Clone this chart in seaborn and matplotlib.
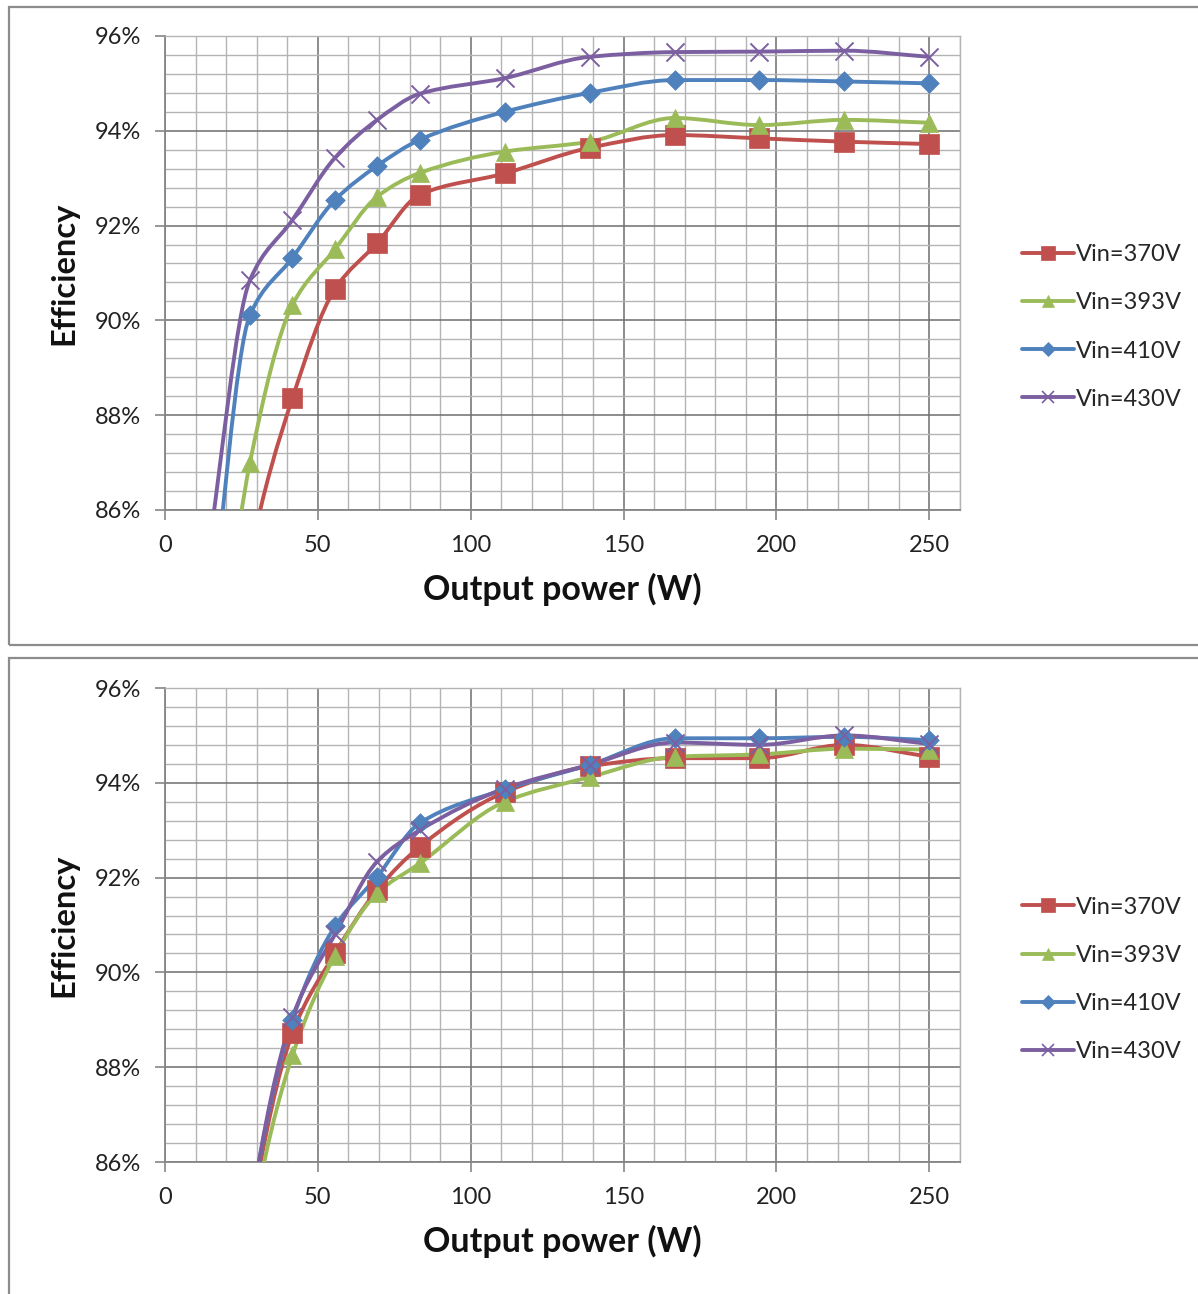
import numpy as np
import pandas as pd
import seaborn as sns
import matplotlib.pyplot as plt
from matplotlib.path import Path
from matplotlib.patches import PathPatch, Rectangle
from matplotlib.lines import Line2D
from matplotlib.ticker import MultipleLocator, FuncFormatter

# Output power points (W)
power = [13.9, 27.8, 41.7, 55.6, 69.4, 83.3, 111.1, 138.9, 166.7, 194.4, 222.2, 250.0]

# Top chart efficiency (%)
top_370 = [78.0, 85.0, 88.36, 90.66, 91.63, 92.65, 93.10, 93.64, 93.91, 93.84, 93.77, 93.72]
top_393 = [80.5, 87.0, 90.33, 91.50, 92.61, 93.11, 93.56, 93.77, 94.27, 94.12, 94.23, 94.17]
top_410 = [83.0, 90.11, 91.32, 92.54, 93.26, 93.81, 94.40, 94.80, 95.07, 95.07, 95.04, 95.00]
top_430 = [85.0, 90.85, 92.12, 93.43, 94.23, 94.78, 95.11, 95.56, 95.66, 95.67, 95.69, 95.56]

# Bottom chart efficiency (%)
bot_370 = [76.0, 84.7, 88.72, 90.40, 91.74, 92.65, 93.80, 94.35, 94.52, 94.52, 94.80, 94.55]
bot_393 = [75.5, 84.4, 88.25, 90.35, 91.67, 92.30, 93.60, 94.12, 94.55, 94.60, 94.72, 94.70]
bot_410 = [76.5, 84.9, 89.00, 90.97, 92.02, 93.15, 93.86, 94.38, 94.94, 94.94, 94.97, 94.90]
bot_430 = [76.5, 84.9, 89.06, 90.80, 92.34, 93.00, 93.88, 94.38, 94.85, 94.80, 95.00, 94.82]

labels = ["Vin=370V", "Vin=393V", "Vin=410V", "Vin=430V"]
colors = ["#C0504D", "#9BBB59", "#4F81BD", "#7B5FA0"]
markers = ["s", "^", "D", "x"]
msizes = [14, 13, 10, 13]

sns.set_theme(style="white")
plt.rcParams["font.family"] = ["Lato", "DejaVu Sans"]


def smooth_path(x, y):
    # smoothed line drawn as cubic Bezier segments through the points,
    # tangents limited so the curve does not overshoot (monotone style)
    x = np.asarray(x, float)
    y = np.asarray(y, float)
    h = np.diff(x)
    d = np.diff(y) / h
    m = np.zeros_like(y)
    m[0], m[-1] = d[0], d[-1]
    for i in range(1, len(y) - 1):
        if d[i - 1] * d[i] > 0:
            w1 = 2 * h[i] + h[i - 1]
            w2 = h[i] + 2 * h[i - 1]
            m[i] = (w1 + w2) / (w1 / d[i - 1] + w2 / d[i])
    verts = [(x[0], y[0])]
    codes = [Path.MOVETO]
    for i in range(len(x) - 1):
        verts += [(x[i] + h[i] / 3, y[i] + m[i] * h[i] / 3),
                  (x[i + 1] - h[i] / 3, y[i + 1] - m[i + 1] * h[i] / 3),
                  (x[i + 1], y[i + 1])]
        codes += [Path.CURVE4] * 3
    return Path(verts, codes)


def draw_chart(ax, series):
    rows = []
    for lab, vals in zip(labels, series):
        for p, v in zip(power, vals):
            rows.append({"power": p, "eff": v, "vin": lab})
    df = pd.DataFrame(rows)

    for lab, vals, c in zip(labels, series, colors):
        ax.add_patch(PathPatch(smooth_path(power, vals), facecolor="none",
                               edgecolor=c, lw=2.8, zorder=3, clip_on=True))

    for lab, c, m, ms in zip(labels, colors, markers, msizes):
        sub = df[df["vin"] == lab]
        if m == "x":
            sns.scatterplot(data=sub, x="power", y="eff", ax=ax, marker="x",
                            s=ms ** 2, color=c, linewidth=1.4, zorder=4,
                            legend=False)
        else:
            sns.scatterplot(data=sub, x="power", y="eff", ax=ax, marker=m,
                            s=ms ** 2, color=c, edgecolor=c, linewidth=0.5,
                            zorder=4, legend=False)

    ax.set_xlim(0, 260)
    ax.set_ylim(86, 96)
    ax.xaxis.set_major_locator(MultipleLocator(50))
    ax.xaxis.set_minor_locator(MultipleLocator(10))
    ax.yaxis.set_major_locator(MultipleLocator(2))
    ax.yaxis.set_minor_locator(MultipleLocator(0.4))
    ax.yaxis.set_major_formatter(FuncFormatter(lambda v, p: f"{v:.0f}%"))
    ax.grid(which="minor", color="#B4B4B4", lw=1.0)
    ax.grid(which="major", color="#6E6E6E", lw=1.1)
    ax.set_axisbelow(True)
    for s in ["top", "right"]:
        ax.spines[s].set_color("#B4B4B4")
        ax.spines[s].set_linewidth(1.0)
    for s in ["left", "bottom"]:
        ax.spines[s].set_color("#868686")
        ax.spines[s].set_linewidth(1.3)
    ax.tick_params(axis="both", which="major", length=7, width=1.2,
                   color="#868686", labelsize=17, labelcolor="#222222",
                   left=True, bottom=True)
    ax.tick_params(axis="y", pad=10)
    ax.tick_params(axis="x", pad=11)
    ax.tick_params(which="minor", length=0)
    ax.set_xlabel("Output power (W)", fontsize=24.5, fontweight="bold",
                  labelpad=12, color="#111111")
    ax.set_ylabel("Efficiency", fontsize=23.5, fontweight="bold",
                  labelpad=12, color="#111111")


fig = plt.figure(figsize=(11.98, 12.94), dpi=100)

# chart frames
fig.patches.append(Rectangle((0.0075, 0.5015), 1.1, 0.4931, transform=fig.transFigure,
                             fill=False, edgecolor="#8C8C8C", lw=1.6))
fig.patches.append(Rectangle((0.0075, -0.05), 1.1, 0.5415, transform=fig.transFigure,
                             fill=False, edgecolor="#8C8C8C", lw=1.6))

ax1 = fig.add_axes([0.1377, 0.6059, 0.6636, 0.3663])
ax2 = fig.add_axes([0.1377, 0.1020, 0.6636, 0.3663])

draw_chart(ax1, [top_370, top_393, top_410, top_430])
draw_chart(ax2, [bot_370, bot_393, bot_410, bot_430])

handles = [Line2D([], [], color=c, lw=2.8, marker=m,
                  markersize=ms * 0.7, markerfacecolor=c, markeredgecolor=c,
                  markeredgewidth=1.2 if m == "x" else 0.5)
           for c, m, ms in zip(colors, markers, msizes)]
for yc in [0.7473, 0.2431]:
    fig.legend(handles, labels, loc="center left", bbox_to_anchor=(0.845, yc),
               frameon=False, fontsize=17, handlelength=2.2, handletextpad=0.1,
               labelspacing=1.15, borderaxespad=0)

fig.savefig("out.png", dpi=100)
